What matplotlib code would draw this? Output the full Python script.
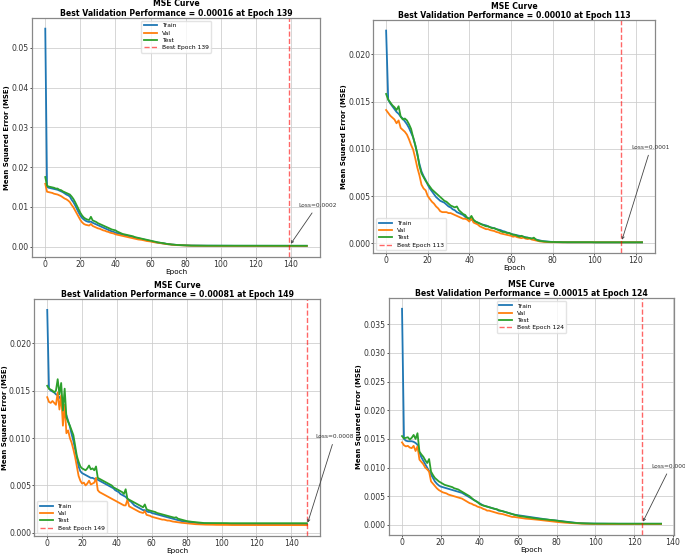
import numpy as np
import matplotlib
matplotlib.use("Agg")
import matplotlib.pyplot as plt

# values, in units of 1e-4
train_1 = [548, 150, 148, 147, 146, 145, 144, 143, 141, 139,
           137, 134, 131, 129, 126, 118, 112, 104, 95, 86,
           78, 72, 68, 65, 63, 62, 63, 60, 58, 56,
           54, 52, 50, 48, 46, 44, 42, 40, 38, 37,
           35, 34, 33, 31, 30, 29, 28, 27, 26, 25,
           24, 23, 22, 21, 20, 19, 18, 17, 16, 15,
           14, 13, 12, 11, 10, 10, 9, 8, 8, 7,
           6, 6, 5, 5, 4.5, 4.2, 4, 3.7, 3.5, 3.3,
           3.1, 3, 2.9, 2.8, 2.8, 2.7, 2.7, 2.6, 2.6, 2.5,
           2.5, 2.5, 2.4, 2.4, 2.4, 2.3, 2.3, 2.3, 2.3, 2.2,
           2.2, 2.2, 2.2, 2.2, 2.2, 2.2, 2.1, 2.1, 2.1, 2.1,
           2.1, 2.1, 2.1, 2.1, 2.1, 2.1, 2.0, 2.0, 2.0, 2.0,
           2.0, 2.0, 2.0, 2.0, 2.0, 2.0, 2.0, 2.0, 2.0, 2.0,
           2.0, 2.0, 2.0, 2.0, 2.0, 2.0, 2.0, 2.0, 2.0, 2.0,
           2.0, 2.0, 2.0, 2.0, 2.0, 2.0, 2.0, 2.0, 2.0, 2.0]
val_1 = [158, 138, 137, 136, 135, 133, 132, 131, 129, 127,
         124, 121, 119, 116, 112, 105, 99, 91, 83, 75,
         67, 61, 57, 55, 54, 53, 57, 52, 50, 48,
         46, 45, 43, 41, 40, 38, 37, 35, 34, 33,
         31, 30, 29, 28, 27, 26, 25, 24, 23, 22,
         21, 20, 19, 18, 17.5, 17, 16, 15, 14, 13.5,
         13, 12, 11, 10.5, 10, 9, 8.5, 8, 7, 6.5,
         6, 5.5, 5, 4.5, 4, 3.8, 3.5, 3.2, 3, 2.8,
         2.6, 2.5, 2.4, 2.3, 2.2, 2.2, 2.1, 2.1, 2.0, 2.0,
         2.0, 1.9, 1.9, 1.9, 1.9, 1.8, 1.8, 1.8, 1.8, 1.8,
         1.8, 1.8, 1.8, 1.8, 1.8, 1.7, 1.7, 1.7, 1.7, 1.7,
         1.7, 1.7, 1.7, 1.7, 1.7, 1.7, 1.7, 1.7, 1.7, 1.7,
         1.7, 1.7, 1.7, 1.7, 1.7, 1.7, 1.7, 1.7, 1.7, 1.7,
         1.7, 1.7, 1.7, 1.7, 1.7, 1.7, 1.7, 1.7, 1.7, 1.6,
         1.7, 1.7, 1.7, 1.7, 1.7, 1.7, 1.7, 1.7, 1.7, 1.7]
test_1 = [175, 153, 151, 150, 149, 148, 146, 146, 143, 142,
          139, 137, 135, 133, 131, 126, 120, 112, 103, 94,
          85, 78, 73, 70, 68, 67, 75, 66, 64, 62,
          59, 57, 55, 53, 51, 49, 47, 45, 43, 42,
          41, 38, 36, 34, 32, 31, 30, 29, 28, 27,
          26, 24, 23, 22, 21, 20, 19, 18, 17, 16,
          15, 14, 13, 12, 11, 10, 9.5, 9, 8, 7,
          6.5, 6, 5.5, 5, 4.5, 4.2, 4, 3.7, 3.5, 3.2,
          3, 2.9, 2.8, 2.7, 2.7, 2.6, 2.6, 2.5, 2.5, 2.5,
          2.4, 2.4, 2.4, 2.4, 2.4, 2.4, 2.4, 2.4, 2.4, 2.4,
          2.3, 2.3, 2.3, 2.3, 2.3, 2.3, 2.3, 2.3, 2.3, 2.3,
          2.3, 2.3, 2.3, 2.3, 2.3, 2.3, 2.3, 2.3, 2.3, 2.3,
          2.2, 2.2, 2.2, 2.2, 2.2, 2.2, 2.2, 2.2, 2.2, 2.2,
          2.2, 2.2, 2.2, 2.2, 2.2, 2.2, 2.2, 2.2, 2.2, 2.2,
          2.2, 2.2, 2.2, 2.2, 2.2, 2.2, 2.2, 2.2, 2.2, 2.2]

train_2 = [225, 152, 148, 145, 142, 139, 137, 134, 132, 129,
           126, 122, 117, 112, 104, 94, 84, 76, 71, 67,
           62, 58, 55, 52, 49, 47, 45, 44, 43, 41,
           39, 38, 36, 35, 33, 32, 31, 30, 28, 27,
           26, 25, 24, 23, 22, 21, 20, 19.5, 19, 18,
           17, 16.5, 16, 15, 14.5, 14, 13, 12.5, 11.5, 11,
           10, 9.5, 9, 8.5, 8, 7.5, 7, 6.5, 6, 5.5,
           5, 4.5, 4, 3.5, 3, 2.5, 2.2, 2, 1.8, 1.6,
           1.5, 1.4, 1.3, 1.3, 1.2, 1.2, 1.2, 1.1, 1.1, 1.1,
           1.1, 1.1, 1.1, 1.1, 1.1, 1.1, 1.1, 1.1, 1.1, 1.1,
           1.0, 1.0, 1.0, 1.0, 1.0, 1.0, 1.0, 1.0, 1.0, 1.0,
           1.0, 1.0, 1.0, 1.0, 1.0, 1.0, 1.0, 1.0, 1.0, 1.0,
           1.0, 1.0, 1.0, 1.0]
val_2 = [141, 138, 135, 133, 131, 127, 130, 122, 120, 118,
         115, 110, 104, 99, 90, 80, 72, 62, 58, 56,
         50, 47, 44, 42, 39, 37, 34, 33, 33, 33,
         32, 32, 31, 30, 29, 28, 27, 26, 26, 25,
         23, 27, 22, 21, 20, 18, 17, 16, 15, 15,
         14, 13.5, 13, 12, 11.5, 10.5, 10, 9.5, 9, 8.5,
         8, 7, 7.5, 6.5, 6, 5.5, 6, 5, 4.5, 5,
         4, 3.5, 3, 2.5, 2, 1.8, 1.5, 1.4, 1.3, 1.2,
         1.2, 1.2, 1.2, 1.1, 1.1, 1.1, 1.1, 1.1, 1.1, 1.1,
         1.1, 1.1, 1.1, 1.1, 1.1, 1.1, 1.1, 1.1, 1.1, 1.1,
         1.1, 1.1, 1.1, 1.1, 1.1, 1.1, 1.1, 1.1, 1.1, 1.1,
         1.1, 1.1, 1.1, 1.0, 1.1, 1.1, 1.1, 1.1, 1.1, 1.1,
         1.1, 1.1, 1.1, 1.1]
test_2 = [158, 152, 149, 146, 144, 141, 145, 134, 131, 132,
          130, 126, 121, 112, 104, 95, 82, 74, 70, 66,
          63, 60, 57, 55, 53, 51, 49, 47, 45, 44,
          42, 40, 39, 38, 39, 35, 33, 31, 30, 27,
          26, 29, 25, 23, 22, 21, 20, 19, 18, 18,
          17, 16, 16, 15, 14, 13, 12, 12, 11, 11,
          10, 9, 9, 8, 7, 8, 7, 6, 6, 5.5,
          5, 6, 4, 3, 2.5, 2.2, 2, 1.8, 1.6, 1.5,
          1.4, 1.4, 1.3, 1.3, 1.3, 1.2, 1.2, 1.2, 1.2, 1.2,
          1.2, 1.2, 1.2, 1.2, 1.2, 1.2, 1.2, 1.2, 1.2, 1.2,
          1.1, 1.1, 1.1, 1.1, 1.1, 1.1, 1.1, 1.1, 1.1, 1.1,
          1.1, 1.1, 1.1, 1.1, 1.1, 1.1, 1.1, 1.1, 1.1, 1.1,
          1.1, 1.1, 1.1, 1.1]

train_3 = [235, 152, 150, 149, 148, 146, 145, 143, 140, 134,
           128, 124, 118, 112, 104, 97, 88, 79, 70, 65,
           63, 62, 61, 60, 59, 58, 58, 57, 57, 56,
           55, 54, 53, 52, 51, 50, 49, 48, 47, 45,
           44, 43, 41, 40, 39, 38, 36, 34, 33, 31,
           29, 28, 27, 26, 25, 24, 24, 23, 22, 22,
           21, 20.5, 20, 19.5, 19, 18.5, 18, 17.5, 17, 16.5,
           16, 15.5, 15, 14.5, 14, 13.5, 13, 12.5, 12.2, 12,
           11.7, 11.4, 11.2, 11, 10.8, 10.6, 10.4, 10.2, 10, 9.9,
           9.8, 9.7, 9.7, 9.6, 9.6, 9.5, 9.5, 9.4, 9.4, 9.4,
           9.3, 9.3, 9.3, 9.3, 9.2, 9.2, 9.2, 9.2, 9.2, 9.2,
           9.1, 9.1, 9.1, 9.1, 9.1, 9.1, 9.1, 9.1, 9.1, 9.1,
           9.0, 9.0, 9.0, 9.0, 9.0, 9.0, 9.0, 9.0, 9.0, 9.0,
           9.0, 9.0, 9.0, 9.0, 9.0, 9.0, 9.0, 9.0, 9.0, 9.0,
           9.0, 9.0, 9.0, 9.0, 9.0, 9.0, 9.0, 9.0, 9.0, 9.0]
val_3 = [143, 138, 137, 139, 137, 135, 148, 130, 145, 113,
         135, 105, 108, 100, 95, 88, 80, 70, 60, 55,
         52, 53, 50, 52, 55, 51, 52, 53, 58, 45,
         43, 42, 41, 40, 39, 38, 37, 36, 35, 34,
         33, 32, 31, 30, 29, 29, 35, 28, 27, 26,
         25, 24, 23, 22, 21.5, 21, 23, 19, 18.5, 18,
         17, 16.5, 16, 15.5, 15, 14.5, 14, 14, 13.5, 13,
         13, 12.5, 12, 11.8, 11.5, 11.2, 11, 10.7, 10.5, 10.2,
         10, 9.8, 9.6, 9.5, 9.3, 9.2, 9.1, 9.0, 8.9, 8.8,
         8.8, 8.7, 8.7, 8.6, 8.6, 8.6, 8.5, 8.5, 8.5, 8.5,
         8.4, 8.4, 8.4, 8.4, 8.4, 8.3, 8.3, 8.3, 8.3, 8.3,
         8.3, 8.3, 8.3, 8.2, 8.2, 8.2, 8.2, 8.2, 8.2, 8.2,
         8.2, 8.2, 8.2, 8.2, 8.2, 8.2, 8.2, 8.2, 8.2, 8.2,
         8.2, 8.2, 8.2, 8.2, 8.2, 8.2, 8.2, 8.2, 8.2, 8.2,
         8.2, 8.2, 8.2, 8.2, 8.2, 8.2, 8.2, 8.2, 8.2, 8.1]
test_3 = [155, 152, 151, 150, 148, 150, 162, 146, 158, 129,
          152, 122, 117, 113, 108, 103, 92, 81, 75, 70,
          68, 67, 66, 68, 71, 67, 68, 66, 70, 58,
          57, 56, 55, 54, 53, 52, 51, 50, 48, 47,
          46, 45, 44, 43, 41, 46, 36, 35, 34, 33,
          32, 31, 30, 29, 28, 27, 30, 25, 24, 23.5,
          23, 22.5, 22, 21, 20.5, 20, 19.5, 19, 18.5, 18,
          17.5, 17, 16.5, 16, 16.5, 15, 14.5, 14, 13.5, 13,
          12.5, 12.2, 12, 11.7, 11.5, 11.3, 11, 10.8, 10.6, 10.5,
          10.4, 10.4, 10.4, 10.3, 10.4, 10.3, 10.3, 10.3, 10.3, 10.3,
          10.3, 10.3, 10.3, 10.3, 10.2, 10.2, 10.2, 10.2, 10.2, 10.2,
          10.2, 10.2, 10.2, 10.2, 10.2, 10.2, 10.2, 10.2, 10.2, 10.2,
          10.2, 10.2, 10.2, 10.2, 10.2, 10.2, 10.2, 10.2, 10.2, 10.2,
          10.2, 10.2, 10.2, 10.2, 10.2, 10.2, 10.2, 10.2, 10.2, 10.2,
          10.2, 10.2, 10.2, 10.2, 10.2, 10.2, 10.2, 10.2, 10.2, 10.2]

train_4 = [377, 150, 147, 146, 146, 146, 145, 143, 140, 126,
           118, 112, 106, 100, 94, 88, 82, 76, 72, 69,
           67, 66, 65, 64, 63, 62, 61, 60, 59, 58,
           57, 56, 54, 52, 50, 48, 46, 44, 42, 40,
           38, 36, 34, 33, 32, 31, 30, 29, 28, 27,
           25, 24.5, 24, 23, 22, 21, 20, 19, 18, 17.5,
           17, 16.5, 16, 15.5, 15, 14.5, 14, 13.5, 13, 12.5,
           12, 11.5, 11, 10.5, 10, 9.5, 9, 8.7, 8.4, 8,
           7.6, 7.2, 6.8, 6.4, 6, 5.6, 5.2, 4.8, 4.4, 4,
           3.7, 3.4, 3.2, 3, 2.8, 2.7, 2.6, 2.5, 2.4, 2.3,
           2.3, 2.3, 2.2, 2.2, 2.2, 2.2, 2.1, 2.1, 2.1, 2.1,
           2.1, 2.1, 2.1, 2.0, 2.0, 2.0, 2.0, 2.0, 2.0, 2.0,
           2.0, 2.0, 2.0, 2.0, 2.0, 2.0, 2.0, 2.0, 2.0, 2.0,
           2.0, 2.0, 2.0, 2.0, 2.0]
val_4 = [144, 139, 137, 138, 135, 134, 138, 129, 137, 114,
         110, 106, 100, 97, 93, 76, 72, 68, 64, 61,
         59, 57, 56, 55, 53, 52, 51, 50, 49, 48,
         47, 46, 44, 42, 40, 38, 37, 35, 34, 32,
         31, 30, 28, 27, 25, 25, 24, 23, 22, 21,
         20, 19.5, 19, 18, 17, 16, 15, 14, 14, 13.5,
         13, 12.5, 12, 11.5, 11, 10.8, 10.5, 10.2, 10, 9.6,
         9.2, 8.8, 8.4, 8, 7.6, 7.2, 6.8, 6.4, 6, 5.6,
         5.2, 4.9, 4.6, 4.3, 4, 3.8, 3.6, 3.4, 3.2, 3,
         2.8, 2.6, 2.4, 2.3, 2.2, 2.1, 2.0, 1.9, 1.8, 1.8,
         1.8, 1.7, 1.7, 1.7, 1.7, 1.7, 1.6, 1.6, 1.6, 1.6,
         1.6, 1.6, 1.6, 1.6, 1.6, 1.6, 1.6, 1.6, 1.6, 1.6,
         1.6, 1.6, 1.6, 1.6, 1.5, 1.6, 1.6, 1.6, 1.6, 1.6,
         1.6, 1.6, 1.6, 1.6, 1.6]
test_4 = [155, 151, 152, 153, 149, 152, 157, 150, 160, 128,
          123, 119, 113, 108, 115, 93, 87, 82, 79, 76,
          74, 72, 70, 69, 68, 67, 66, 64, 63, 62,
          60, 58, 56, 54, 52, 50, 47, 44, 42, 40,
          37, 35, 34, 33, 32, 31, 30, 29, 28, 27.5,
          26, 25, 24, 23, 22, 21, 20, 19, 18, 17,
          16, 15.5, 15, 14.5, 14, 13.5, 13, 12.5, 12, 11.5,
          11, 10.7, 10.4, 10, 9.7, 9.4, 9, 8.7, 8.4, 8,
          7.5, 7, 6.5, 6, 5.6, 5.2, 4.8, 4.4, 4, 3.7,
          3.4, 3.2, 3, 2.9, 2.8, 2.7, 2.6, 2.5, 2.5, 2.4,
          2.4, 2.4, 2.4, 2.3, 2.3, 2.3, 2.3, 2.3, 2.3, 2.3,
          2.3, 2.2, 2.2, 2.2, 2.2, 2.2, 2.2, 2.2, 2.2, 2.2,
          2.2, 2.2, 2.2, 2.2, 2.2, 2.2, 2.2, 2.2, 2.2, 2.2,
          2.2, 2.2, 2.2, 2.2, 2.2]

best_epochs = [139, 113, 149, 124]
best_vals = [0.00016, 0.00010, 0.00081, 0.00015]
loss_labels = ['0.0002', '0.0001', '0.0008', '0.0001']
legend_locs = ['upper center', 'lower left', 'lower left', 'upper center']

panels = [(train_1, val_1, test_1), (train_2, val_2, test_2),
          (train_3, val_3, test_3), (train_4, val_4, test_4)]

# axes boxes in figure fractions, taken from the reference layout
boxes = [[0.047, 0.538, 0.420, 0.430],
         [0.545, 0.545, 0.411, 0.419],
         [0.050, 0.036, 0.417, 0.426],
         [0.568, 0.038, 0.416, 0.426]]

fig = plt.figure(figsize=(6.85, 5.56), dpi=100)

for i in range(4):
    tr, va, te = [np.array(s) * 1e-4 for s in panels[i]]
    ep = np.arange(len(tr))
    ax = fig.add_axes(boxes[i])
    ax.plot(ep, tr, color='tab:blue', lw=1.3, label='Train')
    ax.plot(ep, va, color='tab:orange', lw=1.3, label='Val')
    ax.plot(ep, te, color='tab:green', lw=1.3, label='Test')
    b = best_epochs[i]
    ax.axvline(b, color='red', ls='--', lw=1, alpha=0.6,
               label='Best Epoch %d' % b)
    ax.annotate('Loss=' + loss_labels[i], xy=(b, va[b]), xytext=(b + 5, 0.01),
                fontsize=4.2, color='#333333', annotation_clip=False,
                arrowprops=dict(arrowstyle='->', color='#444444', lw=0.6))
    ax.set_title('MSE Curve\nBest Validation Performance = %.5f at Epoch %d'
                 % (best_vals[i], b), fontsize=5.6, fontweight='bold', pad=1,
                 linespacing=1.05)
    ax.set_xlabel('Epoch', fontsize=5.2, labelpad=0)
    ax.set_ylabel('Mean Squared Error (MSE)', fontsize=5.0, fontweight='bold',
                  labelpad=1)
    ax.tick_params(labelsize=5.6, length=1.5, width=0.6, pad=0.8,
                   colors='#333333')
    ax.grid(True, color='#cccccc', lw=0.7, alpha=0.8)
    for sp in ax.spines.values():
        sp.set_color('#888888')
        sp.set_linewidth(0.9)
    ax.legend(loc=legend_locs[i], fontsize=4.3, framealpha=0.8,
              edgecolor='#dddddd', handlelength=2.2, borderpad=0.4,
              labelspacing=0.35)

fig.savefig('out.png', dpi=100)
